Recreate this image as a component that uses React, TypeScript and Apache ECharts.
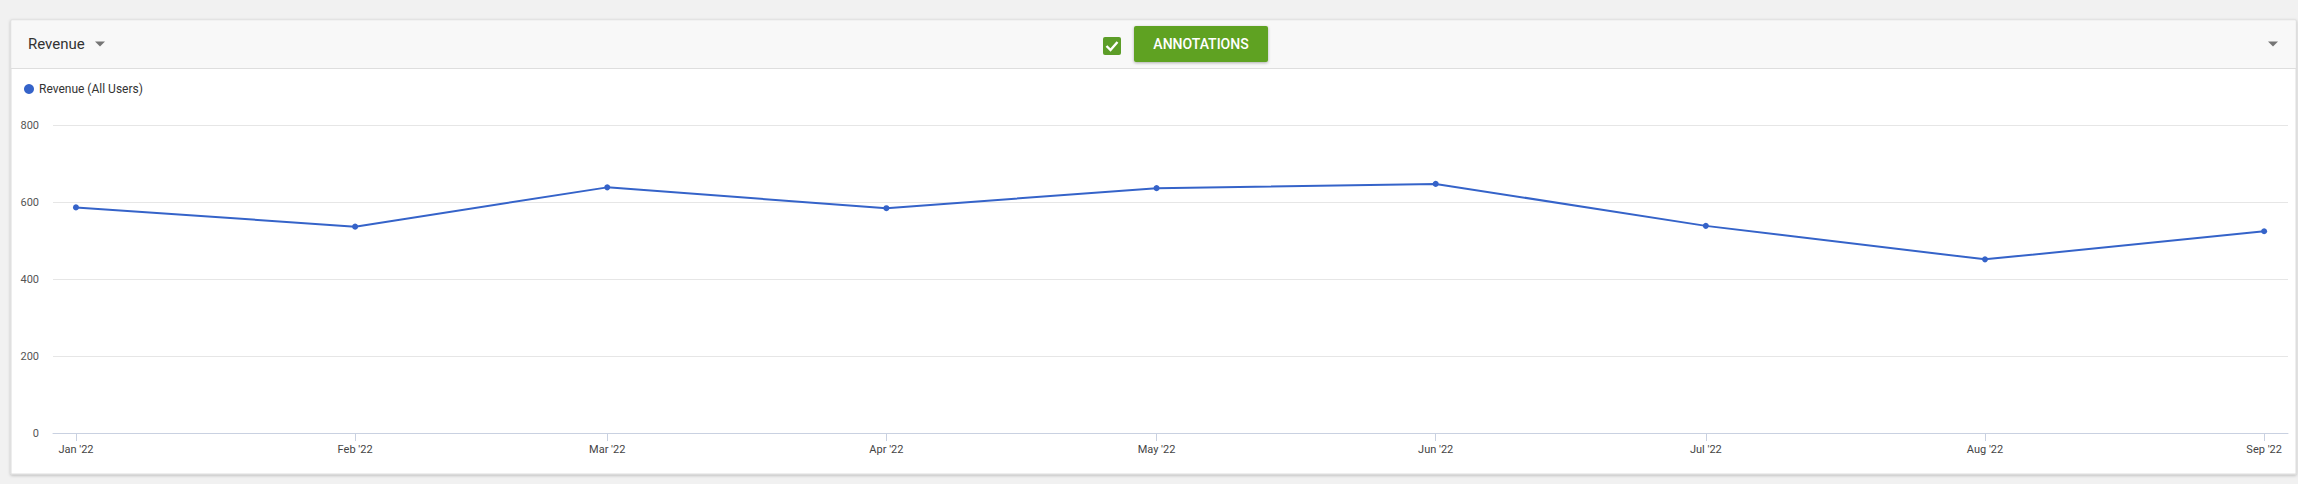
import React, { useEffect, useRef } from "react";
import * as echarts from "echarts";

const MONTHS = ["2022-01", "2022-02", "2022-03", "2022-04", "2022-05", "2022-06", "2022-07", "2022-08", "2022-09"];
const MONTH_LABELS = ["Jan '22", "Feb '22", "Mar '22", "Apr '22", "May '22", "Jun '22", "Jul '22", "Aug '22", "Sep '22"];
const REVENUE = [586, 536, 638, 584, 636, 647, 538, 451, 524];
const Y_TICKS = [0, 200, 400, 600, 800];
const SERIES_NAME = "Revenue (All Users)";
const METRIC_NAME = "Revenue";
const BUTTON_TEXT = "ANNOTATIONS";

// day index (days since 2022-01-01) of each month start
const dayIndex = (m: string) => {
  const [y, mo] = m.split("-").map(Number);
  return Math.round((Date.UTC(y, mo - 1, 1) - Date.UTC(2022, 0, 1)) / 86400000);
};

export default function App() {
  const ref = useRef<HTMLDivElement>(null);
  useEffect(() => {
    if (!ref.current) return;
    const chart = echarts.init(ref.current, undefined, { renderer: "svg" });
    const days = MONTHS.map(dayIndex);
    const labelMap: Record<number, string> = {};
    days.forEach((d, i) => (labelMap[d] = MONTH_LABELS[i]));
    const font = "Roboto, Arial, sans-serif";
    const blue = "#3563c9";
    chart.setOption({
      animation: false,
      backgroundColor: "#f1f1f1",
      textStyle: { fontFamily: font },
      graphic: [
        {
          type: "rect",
          shape: { x: 11, y: 20, width: 2285, height: 454 },
          style: { fill: "#ffffff", stroke: "#dcdcdc", lineWidth: 1, shadowBlur: 3, shadowColor: "rgba(0,0,0,0.25)", shadowOffsetY: 1 },
          z: -10,
          silent: true,
        },
        {
          type: "rect",
          shape: { x: 11.5, y: 20.5, width: 2284, height: 47.5 },
          style: { fill: "#f8f8f8" },
          z: -9,
          silent: true,
        },
        {
          type: "line",
          shape: { x1: 11, y1: 68.5, x2: 2296, y2: 68.5 },
          style: { stroke: "#dedede", lineWidth: 1 },
          z: -8,
          silent: true,
        },
        {
          type: "text",
          x: 28,
          y: 44,
          style: { text: METRIC_NAME, fontSize: 15, fill: "#333333", fontFamily: font, verticalAlign: "middle" },
        },
        {
          type: "polygon",
          shape: { points: [[95, 41.5], [105, 41.5], [100, 46.5]] },
          style: { fill: "#757575" },
        },
        {
          type: "polygon",
          shape: { points: [[2268, 41.5], [2278, 41.5], [2273, 46.5]] },
          style: { fill: "#757575" },
        },
        {
          type: "rect",
          shape: { x: 1103, y: 37, width: 18, height: 18, r: 2 },
          style: { fill: "#5c9d28" },
        },
        {
          type: "polyline",
          shape: { points: [[1106.5, 46], [1110.5, 50], [1117.5, 42]] },
          style: { stroke: "#ffffff", lineWidth: 2.4, fill: "none" },
        },
        {
          type: "rect",
          shape: { x: 1134, y: 26, width: 134, height: 36, r: 2 },
          style: { fill: "#5fa222", shadowBlur: 3, shadowColor: "rgba(0,0,0,0.3)", shadowOffsetY: 1 },
        },
        {
          type: "text",
          x: 1201,
          y: 44,
          style: {
            text: BUTTON_TEXT,
            fontSize: 14,
            fontWeight: 500,
            fill: "#ffffff",
            fontFamily: font,
            align: "center",
            verticalAlign: "middle",
          },
        },
      ],
      legend: {
        show: true,
        left: 19,
        top: 78,
        icon: "circle",
        itemWidth: 10,
        itemHeight: 10,
        itemGap: 10,
        textStyle: { fontSize: 12, color: "#333333", fontFamily: font },
        data: [SERIES_NAME],
      },
      grid: { left: 53, right: 10, top: 125, bottom: 51, containLabel: false, outerBoundsMode: "none" },
      xAxis: {
        type: "value",
        min: days[0] - 2.55,
        max: days[days.length - 1] + 2.65,
        axisLine: { show: true, onZero: false, lineStyle: { color: "#c9d1e1", width: 1 } },
        axisTick: { show: true, length: 8, lineStyle: { color: "#c9d1e1" }, customValues: days },
        axisLabel: {
          customValues: days,
          formatter: (v: number) => labelMap[Math.round(v)] ?? "",
          fontSize: 11,
          color: "#444444",
          margin: 11,
          fontFamily: font,
          showMinLabel: true,
          showMaxLabel: true,
        },
        splitLine: { show: false },
      },
      yAxis: {
        type: "value",
        min: Y_TICKS[0],
        max: Y_TICKS[Y_TICKS.length - 1],
        interval: Y_TICKS[1] - Y_TICKS[0],
        axisLine: { show: false },
        axisTick: { show: false },
        axisLabel: { fontSize: 11, color: "#555555", margin: 14, fontFamily: font },
        splitLine: { show: true, lineStyle: { color: "#e6e6e6", width: 1 } },
      },
      series: [
        {
          name: SERIES_NAME,
          type: "line",
          data: days.map((d, i) => [d, REVENUE[i]]),
          symbol: "circle",
          symbolSize: 6,
          showSymbol: true,
          lineStyle: { color: blue, width: 2 },
          itemStyle: { color: blue },
        },
      ],
    });
    return () => chart.dispose();
  }, []);
  return (
    <div
      ref={ref}
      style={{ position: "fixed", left: 0, top: 0, width: 2298, height: 484 }}
    />
  );
}
